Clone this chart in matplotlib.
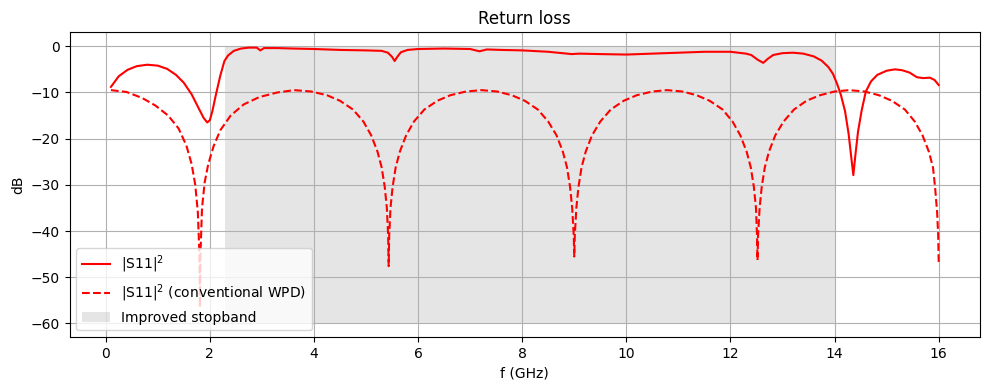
import matplotlib
matplotlib.use('Agg')
import matplotlib.pyplot as plt

# improved divider |S11|^2 (dB)
f_new = [0.1, 0.25, 0.42, 0.6, 0.8, 1.0, 1.18, 1.35, 1.5, 1.65, 1.78, 1.88, 1.95,
         2.0, 2.05, 2.12, 2.2, 2.28, 2.35, 2.46, 2.6, 2.75, 2.9, 2.97, 3.04, 3.3,
         3.6, 4.0, 4.5, 5.0, 5.3, 5.42, 5.5, 5.55, 5.6, 5.67, 5.8, 6.0, 6.5, 7.0,
         7.18, 7.32, 7.6, 8.0, 8.5, 8.95, 9.1, 9.5, 10.0, 10.5, 11.0, 11.5, 12.0,
         12.3, 12.4, 12.52, 12.63, 12.72, 12.82, 13.0, 13.2, 13.4, 13.6, 13.75,
         13.88, 13.97, 14.05, 14.12, 14.2, 14.27, 14.32, 14.36, 14.4, 14.45, 14.52,
         14.6, 14.7, 14.82, 15.0, 15.16, 15.3, 15.44, 15.58, 15.7, 15.83, 15.92, 16.0]
s11_new = [-8.8, -6.5, -5.1, -4.3, -4.0, -4.2, -4.9, -6.2, -7.9, -10.4, -13.3, -15.5, -16.5,
           -16.0, -14.0, -10.3, -6.4, -3.2, -2.0, -1.0, -0.5, -0.3, -0.3, -0.9, -0.4, -0.4,
           -0.5, -0.6, -0.8, -0.9, -1.0, -1.4, -2.3, -3.2, -2.3, -1.3, -0.8, -0.6, -0.5, -0.6,
           -1.1, -0.7, -0.8, -0.9, -1.2, -1.7, -1.6, -1.7, -1.8, -1.6, -1.4, -1.2, -1.2,
           -1.6, -1.9, -2.9, -3.6, -2.7, -1.9, -1.5, -1.4, -1.6, -2.2, -3.1,
           -4.5, -6.0, -8.2, -10.5, -14.0, -19.0, -24.0, -27.9, -23.5, -18.5, -13.9,
           -9.8, -7.6, -6.2, -5.3, -5.0, -5.2, -5.7, -6.7, -6.9, -6.8, -7.3, -8.4]

# conventional WPD |S11|^2 (dB)
f_conv = [0.1, 0.4, 0.7, 0.95, 1.2, 1.4, 1.55, 1.65, 1.72, 1.77, 1.80, 1.81, 1.82,
          1.85, 1.90, 1.97, 2.07, 2.2, 2.4, 2.65, 2.95, 3.3, 3.62,
          3.95, 4.25, 4.5, 4.75, 4.95, 5.1, 5.22, 5.3, 5.36, 5.40, 5.425, 5.435,
          5.445, 5.47, 5.51, 5.57, 5.65, 5.77, 5.92, 6.12, 6.37, 6.62, 6.92, 7.22,
          7.52, 7.8, 8.05, 8.3, 8.5, 8.66, 8.78, 8.86, 8.92, 8.96, 8.99, 9.0,
          9.01, 9.04, 9.08, 9.14, 9.22, 9.34, 9.5, 9.7, 9.95, 10.2, 10.5, 10.78,
          11.08, 11.35, 11.6, 11.85, 12.04, 12.19, 12.31, 12.39, 12.45, 12.49, 12.51, 12.52,
          12.53, 12.56, 12.60, 12.66, 12.74, 12.86, 13.02, 13.22, 13.46, 13.72, 14.0, 14.28,
          14.58, 14.85, 15.1, 15.35, 15.54, 15.69, 15.81, 15.89, 15.93, 15.97, 15.99, 16.0]
s11_conv = [-9.5, -9.9, -11.2, -12.8, -15.0, -17.8, -21.5, -25.5, -30.0, -36.0, -45.0, -56.5, -45.0,
            -35.0, -29.5, -25.5, -21.7, -18.2, -15.0, -12.6, -11.0, -10.0, -9.5,
            -9.8, -10.6, -11.8, -13.7, -16.3, -19.3, -22.8, -26.2, -30.5, -35.0, -41.0, -47.6,
            -41.0, -35.0, -30.5, -26.2, -22.8, -19.3, -16.3, -13.7, -11.8, -10.6, -9.8, -9.5,
            -9.8, -10.6, -11.8, -13.7, -16.3, -19.3, -22.8, -26.2, -30.5, -35.0, -41.0, -45.5,
            -41.0, -35.0, -30.5, -26.2, -22.8, -19.3, -16.3, -13.7, -11.8, -10.6, -9.8, -9.5,
            -9.8, -10.6, -11.8, -13.7, -16.3, -19.3, -22.8, -26.2, -30.5, -35.0, -41.0, -46.3,
            -41.0, -35.0, -30.5, -26.2, -22.8, -19.3, -16.3, -13.7, -11.8, -10.6, -9.8, -9.5,
            -9.8, -10.6, -11.8, -13.7, -16.3, -19.3, -22.8, -26.2, -30.5, -36.0, -41.0, -47.0]

# improved stopband span (GHz) and its vertical extent (dB)
stopband_f = [2.3, 14.0]
stopband_db = [-60, 0]

fig, ax = plt.subplots(figsize=(9.89, 3.9), dpi=100)
fig.subplots_adjust(left=0.0703, right=0.991, top=0.917, bottom=0.135)

ax.plot(f_new, s11_new, color='red', label='|S11|$^2$')
ax.plot(f_conv, s11_conv, color='red', linestyle='--', label='|S11|$^2$ (conventional WPD)')
ax.fill_between(stopband_f, stopband_db[0], stopband_db[1], color='gray', alpha=0.2,
                linewidth=0, label='Improved stopband')

ax.set_title('Return loss')
ax.set_xlabel('f (GHz)')
ax.set_ylabel('dB')
ax.grid(True)
ax.legend(loc='lower left')

fig.savefig('out.png', dpi=100)
plt.close(fig)
